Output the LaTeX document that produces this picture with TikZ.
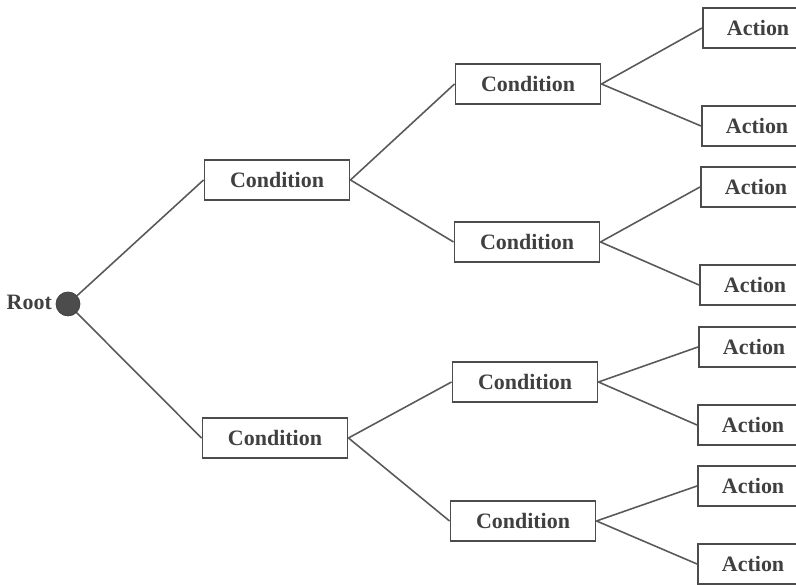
\documentclass[tikz,border=0pt]{standalone}
\usepackage{fontspec}
\setmainfont{Liberation Serif}
\begin{document}
\begin{tikzpicture}[
    every node/.style={font=\fontsize{12.5}{15}\selectfont\bfseries, text=black!75},
    cond/.style={rectangle, draw=black!70, line width=1.1pt, minimum width=2.9cm, minimum height=0.8cm},
    act/.style={rectangle, draw=black!70, line width=1.1pt, minimum width=2.3cm, minimum height=0.8cm, anchor=west, text width=1.9cm, align=left},
    branch/.style={draw=black!65, line width=0.9pt}
  ]
    \useasboundingbox (0,0) rectangle (15.92,11.7);
    \clip (0,0) rectangle (15.92,11.7);

    \node (root) [circle, fill=black!70, draw=black!75, minimum size=0.48cm, inner sep=0pt] at (1.36,5.62) {};
    \node (rootlabel) [anchor=east, inner sep=1pt] at (1.08,5.66) {Root};

    % first level
    \node (c1) [cond] at (5.54,8.10) {Condition};
    \node (c2) [cond] at (5.50,2.94) {Condition};

    % second level
    \node (c11) [cond] at (10.56,10.02) {Condition};
    \node (c12) [cond] at (10.54,6.86) {Condition};
    \node (c21) [cond] at (10.50,4.06) {Condition};
    \node (c22) [cond] at (10.46,1.28) {Condition};

    % leaves
    \node (a1) [act] at (14.04,11.14) {\hspace{0.28cm}Action};
    \node (a2) [act] at (14.02,9.18) {\hspace{0.28cm}Action};
    \node (a3) [act] at (14.00,7.96) {\hspace{0.28cm}Action};
    \node (a4) [act] at (13.98,6.00) {\hspace{0.28cm}Action};
    \node (a5) [act] at (13.96,4.76) {\hspace{0.28cm}Action};
    \node (a6) [act] at (13.94,3.20) {\hspace{0.28cm}Action};
    \node (a7) [act] at (13.94,1.98) {\hspace{0.28cm}Action};
    \node (a8) [act] at (13.94,0.42) {\hspace{0.28cm}Action};

    \draw [branch] (root) -- (c1.west);
    \draw [branch] (root) -- (c2.west);
    \draw [branch] (c1.east) -- (c11.west);
    \draw [branch] (c1.east) -- (c12.west);
    \draw [branch] (c2.east) -- (c21.west);
    \draw [branch] (c2.east) -- (c22.west);
    \draw [branch] (c11.east) -- (a1.west);
    \draw [branch] (c11.east) -- (a2.west);
    \draw [branch] (c12.east) -- (a3.west);
    \draw [branch] (c12.east) -- (a4.west);
    \draw [branch] (c21.east) -- (a5.west);
    \draw [branch] (c21.east) -- (a6.west);
    \draw [branch] (c22.east) -- (a7.west);
    \draw [branch] (c22.east) -- (a8.west);
\end{tikzpicture}
\end{document}
